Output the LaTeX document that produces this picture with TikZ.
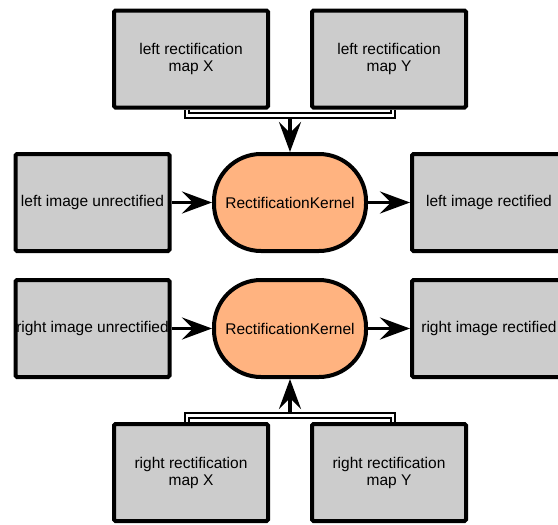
\documentclass[tikz,border=0pt]{standalone}
\usepackage{fontspec}
\setmainfont{Liberation Sans}
\usetikzlibrary{arrows.meta,backgrounds}
\definecolor{boxgray}{HTML}{CCCCCC}
\definecolor{kernelfill}{HTML}{FFB380}
\begin{document}
\begin{tikzpicture}[x=1pt,y=-1pt,
  every node/.style={font=\fontsize{15.5pt}{17pt}\selectfont, align=center},
  databox/.style={draw, line width=4pt, fill=boxgray, rounded corners=1.5pt,
    minimum width=154pt, minimum height=97pt, inner sep=0pt},
  kernel/.style={draw, line width=4pt, fill=kernelfill, rounded corners=47pt,
    minimum width=152pt, minimum height=97pt, inner sep=0pt},
  flow/.style={line width=3.8pt, -{Stealth[length=30pt,width=22pt,inset=11pt]}},
  bus/.style={line width=2pt, double=white, double distance=2.8pt}]

\path[use as bounding box, clip] (0,0) rectangle (558,525);

% input maps, left camera
\node[databox] (lmx) at (191,59) {left rectification\\map X};
\node[databox] (lmy) at (389,59) {left rectification\\map Y};

% left camera pipeline
\node[databox] (liu) at (92.5,202.5) {left image unrectified};
\node[kernel]  (kl)  at (290,202.5) {RectificationKernel};
\node[databox] (lir) at (489,202.5) {left image rectified};

% right camera pipeline
\node[databox] (riu) at (92.5,328.5) {right image unrectified};
\node[kernel]  (kr)  at (290,328.5) {RectificationKernel};
\node[databox] (rir) at (489,328.5) {right image rectified};

% input maps, right camera
\node[databox] (rmx) at (191,472.5) {right rectification\\map X};
\node[databox] (rmy) at (389,472.5) {right rectification\\map Y};

% bus junctions
\coordinate (tbus)  at (290,115.5);
\coordinate (tstem) at (290,118.5);
\coordinate (bbus)  at (290,415.5);
\coordinate (bstem) at (290,412.5);

\begin{scope}[on background layer]
  \draw[bus] ([xshift=-4pt]lmx.south) |- (tbus) -| ([xshift=4pt]lmy.south);
  \draw[bus] ([xshift=-4pt]rmx.north) |- (bbus) -| ([xshift=4pt]rmy.north);
\end{scope}

\draw[flow] (tstem) -- (kl.north);
\draw[flow] (liu.east) -- (kl.west);
\draw[flow] (kl.east) -- (lir.west);

\draw[flow] (bstem) -- (kr.south);
\draw[flow] (riu.east) -- (kr.west);
\draw[flow] (kr.east) -- (rir.west);
\end{tikzpicture}
\end{document}
